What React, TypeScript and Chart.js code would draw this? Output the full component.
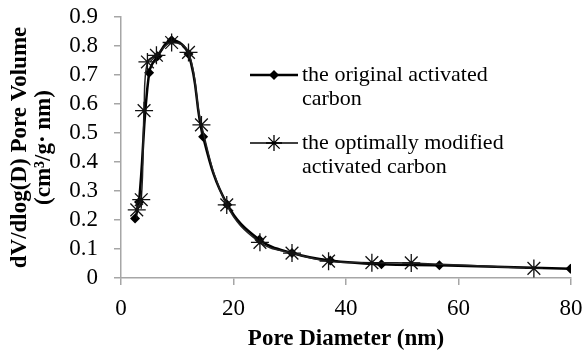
import React, { useEffect, useRef } from "react";
import { Chart, registerables } from "chart.js";

Chart.register(...registerables);

const originalX = [2.5, 3.2, 5.0, 6.5, 9.0, 12.0, 14.6, 18.9, 24.6, 30.4, 37.2, 46.3, 56.6, 79.9];
const originalY = [0.205, 0.262, 0.708, 0.765, 0.82, 0.772, 0.487, 0.253, 0.132, 0.086, 0.06, 0.047, 0.044, 0.032];

const modifiedX = [2.8, 3.6, 4.1, 4.7, 6.3, 9.0, 12.0, 14.3, 18.8, 24.7, 30.4, 36.9, 44.6, 51.6, 73.4];
const modifiedY = [0.235, 0.27, 0.577, 0.745, 0.768, 0.812, 0.778, 0.528, 0.252, 0.123, 0.086, 0.058, 0.053, 0.052, 0.033];

const legendLabels = [
  ["the original activated", "carbon"],
  ["the optimally modified", "activated carbon"],
];
const xTitle = "Pore Diameter (nm)";
const yTitle = ["dV/dlog(D) Pore Volume", "(cm³/g· nm)"];

const FONT = "'Liberation Serif', 'Times New Roman', serif";
const AXIS = "#a6a6a6";

function drawDiamond(ctx: CanvasRenderingContext2D, x: number, y: number, r: number) {
  ctx.beginPath();
  ctx.moveTo(x, y - r);
  ctx.lineTo(x + r, y);
  ctx.lineTo(x, y + r);
  ctx.lineTo(x - r, y);
  ctx.closePath();
  ctx.fill();
}

function drawAsterisk(ctx: CanvasRenderingContext2D, x: number, y: number, r: number) {
  ctx.beginPath();
  ctx.moveTo(x - r, y);
  ctx.lineTo(x + r, y);
  ctx.moveTo(x, y - r);
  ctx.lineTo(x, y + r);
  const d = r * 0.707;
  ctx.moveTo(x - d, y - d);
  ctx.lineTo(x + d, y + d);
  ctx.moveTo(x - d, y + d);
  ctx.lineTo(x + d, y - d);
  ctx.stroke();
}

const legendPlugin = {
  id: "customLegend",
  afterDraw(chart: any) {
    const ctx = chart.ctx as CanvasRenderingContext2D;
    ctx.save();
    ctx.strokeStyle = "#000";
    ctx.fillStyle = "#000";
    const rows = [75, 143];
    rows.forEach((y, i) => {
      ctx.lineWidth = i === 0 ? 2.5 : 1.5;
      ctx.beginPath();
      ctx.moveTo(250, y);
      ctx.lineTo(298, y);
      ctx.stroke();
      if (i === 0) drawDiamond(ctx, 274, y, 5);
      else {
        ctx.lineWidth = 1.3;
        drawAsterisk(ctx, 274, y, 8);
      }
      ctx.font = `22px ${FONT}`;
      ctx.textBaseline = "middle";
      ctx.textAlign = "left";
      ctx.fillText(legendLabels[i][0], 302, y);
      ctx.fillText(legendLabels[i][1], 302, y + 24);
    });
    ctx.restore();
  },
};

export default function App() {
  const ref = useRef<HTMLCanvasElement | null>(null);
  useEffect(() => {
    if (!ref.current) return;
    Chart.defaults.font.family = FONT;
    const chart = new Chart(ref.current, {
      type: "scatter",
      data: {
        datasets: [
          {
            label: "the optimally modified activated carbon",
            data: modifiedX.map((x, i) => ({ x, y: modifiedY[i] })),
            showLine: true,
            borderColor: "#222",
            borderWidth: 1.5,
            tension: 0.4,
            pointStyle: "star",
            pointRadius: 9,
            pointBorderColor: "#111",
            pointBackgroundColor: "#111",
            pointBorderWidth: 1.3,
          },
          {
            label: "the original activated carbon",
            data: originalX.map((x, i) => ({ x, y: originalY[i] })),
            showLine: true,
            borderColor: "#000",
            borderWidth: 2.5,
            tension: 0.4,
            pointStyle: "rectRot",
            pointRadius: 5,
            pointBorderColor: "#000",
            pointBackgroundColor: "#000",
            pointBorderWidth: 0,
          },
        ],
      },
      options: {
        animation: false,
        responsive: false,
        devicePixelRatio: 1,
        layout: { padding: { top: 17, right: 15, left: 0, bottom: 0 } },
        plugins: { legend: { display: false }, tooltip: { enabled: false } },
        scales: {
          x: {
            type: "linear",
            min: 0,
            max: 80,
            border: { display: true, color: AXIS, width: 1.5 },
            grid: { display: true, drawOnChartArea: false, drawTicks: true, tickLength: 7, tickColor: AXIS, color: AXIS, lineWidth: 1.5 },
            ticks: { stepSize: 20, autoSkip: false, maxRotation: 0, color: "#000", font: { size: 23, family: FONT }, padding: 10 },
            title: { display: true, text: xTitle, color: "#000", font: { size: 23, weight: "bold", family: FONT, lineHeight: 1.0 }, padding: { top: 4, bottom: 5 } },
            afterFit: (s: any) => { s.height = 78; s.paddingLeft = 0; s.paddingRight = 0; },
          },
          y: {
            type: "linear",
            min: 0,
            max: 0.9,
            border: { display: true, color: AXIS, width: 1.5 },
            grid: { display: true, drawOnChartArea: false, drawTicks: true, tickLength: 7, tickColor: AXIS, color: AXIS, lineWidth: 1.5 },
            ticks: { stepSize: 0.1, autoSkip: false, color: "#000", font: { size: 23, family: FONT }, padding: 16, callback: (v: any) => (Math.round(v * 10) / 10).toString() },
            title: { display: true, text: yTitle, color: "#000", font: { size: 23, weight: "bold", family: FONT, lineHeight: 1.05 }, padding: { top: 8, bottom: 4 } },
            afterFit: (s: any) => { s.width = 121; s.paddingTop = 0; s.paddingBottom = 0; },
          },
        },
      },
      plugins: [legendPlugin],
    });
    return () => chart.destroy();
  }, []);
  return (
    <div style={{ position: "fixed", left: 0, top: 0, width: 586, height: 356, background: "#fff" }}>
      <canvas ref={ref} width={586} height={356} style={{ width: 586, height: 356 }} />
    </div>
  );
}
